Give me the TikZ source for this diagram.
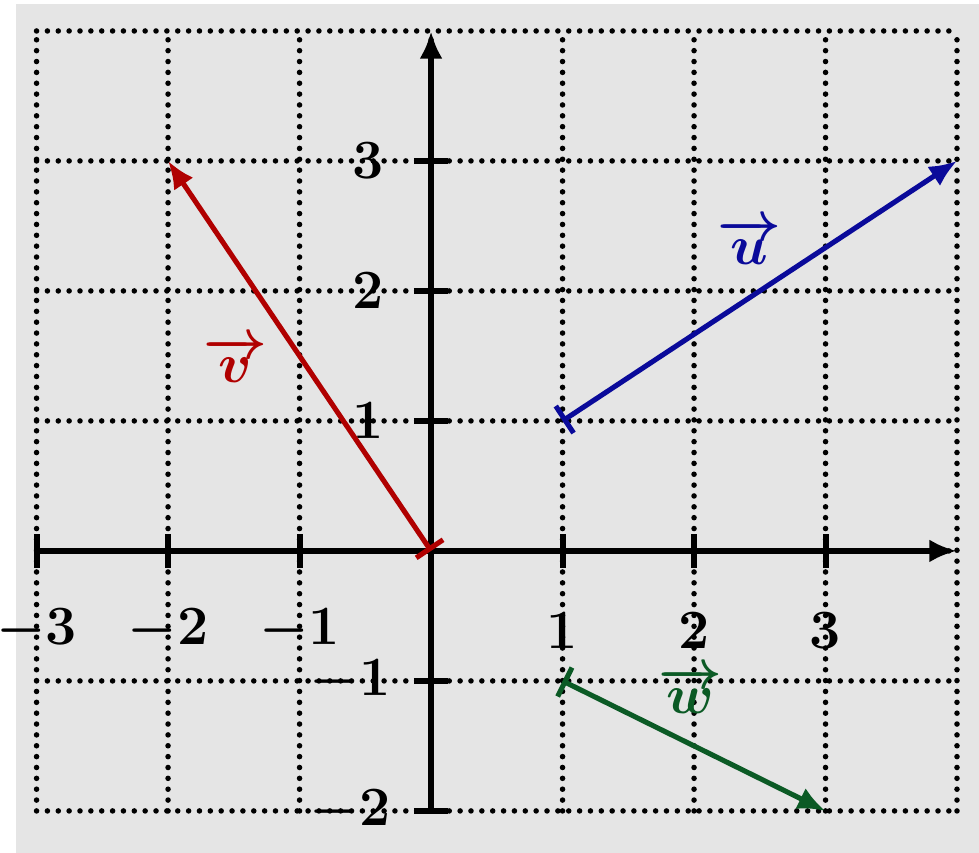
\documentclass[tikz,border=0pt]{standalone}
\definecolor{mGridBg}{HTML}{E5E5E5}
\definecolor{mVecRed}{HTML}{B00000}
\definecolor{mVecBlue}{HTML}{0A0A9A}
\definecolor{mVecGreen}{HTML}{0B5A25}
\usepackage{amsmath, amssymb}
\usepackage{bm}
\usepackage{xcolor}
\usepackage{tikz}
\usetikzlibrary{arrows.meta}

\begin{document}
\begin{tikzpicture}[x=1cm, y=0.9886cm, font=\large\boldmath,
  vecline/.style={line width=1.1pt, {Bar[width=7pt]}-{Latex[length=6pt,width=5pt]}},
  axisline/.style={line width=1.3pt, -{Latex[length=6pt,width=5pt]}},
  tickline/.style={line width=1.3pt},
  gridline/.style={line width=1.2pt, line cap=round, dash pattern=on 0pt off 2.35pt}]
\useasboundingbox (-3.278,-2.323) rectangle (4.167,4.238);
\fill[mGridBg] (-3.156,-2.323) rectangle (4.167,4.208);
\draw[gridline, step={(1,1)}] (-3,-2) grid (4,4);
% axes
\coordinate (xL) at (-3,0); \coordinate (xR) at (4,0);
\coordinate (yB) at (0,-2); \coordinate (yT) at (0,4);
\draw[axisline] (xL) -- (xR);
\draw[tickline] (yB) -- (0,3.6);
\draw[axisline] (0,3.5) -- (yT);
\draw[tickline] (-3,-0.13) -- (-3,0.13);
\draw[tickline] (-2,-0.13) -- (-2,0.13);
\draw[tickline] (-1,-0.13) -- (-1,0.13);
\draw[tickline] (1,-0.13) -- (1,0.13);
\draw[tickline] (2,-0.13) -- (2,0.13);
\draw[tickline] (3,-0.13) -- (3,0.13);
\draw[tickline] (-0.13,-2) -- (0.13,-2);
\draw[tickline] (-0.13,-1) -- (0.13,-1);
\draw[tickline] (-0.13,1) -- (0.13,1);
\draw[tickline] (-0.13,2) -- (0.13,2);
\draw[tickline] (-0.13,3) -- (0.13,3);
% tick labels
\node (xm3) at (-3,-0.61) {$-3$};
\node (xm2) at (-2,-0.61) {$-2$};
\node (xm1) at (-1,-0.61) {$-1$};
\node (xp1) at (1,-0.61) {$1$};
\node (xp2) at (2,-0.61) {$2$};
\node (xp3) at (3,-0.61) {$3$};
\node[anchor=east, inner sep=0pt] (ym2) at (-0.3,-2) {$-2$};
\node[anchor=east, inner sep=0pt] (ym1) at (-0.3,-1) {$-1$};
\node[anchor=east, inner sep=0pt] (yp1) at (-0.35,1) {$1$};
\node[anchor=east, inner sep=0pt] (yp2) at (-0.35,2) {$2$};
\node[anchor=east, inner sep=0pt] (yp3) at (-0.35,3) {$3$};
% vectors
\coordinate (O) at (0,0); \coordinate (vTip) at (-2,3);
\coordinate (uTail) at (1,1); \coordinate (uTip) at (4,3);
\coordinate (wTail) at (1,-1); \coordinate (wTip) at (3,-2);
\draw[vecline, mVecRed] (O) -- (vTip);
\draw[vecline, mVecBlue] (uTail) -- (uTip);
\draw[vecline, mVecGreen] (wTail) -- (wTip);
\node[mVecRed] (vlab) at (-1.49,1.47) {$\overrightarrow{v}$};
\node[mVecBlue] (ulab) at (2.42,2.38) {$\overrightarrow{u}$};
\node[mVecGreen] (wlab) at (1.97,-1.07) {$\overrightarrow{w}$};
\end{tikzpicture}
\end{document}
